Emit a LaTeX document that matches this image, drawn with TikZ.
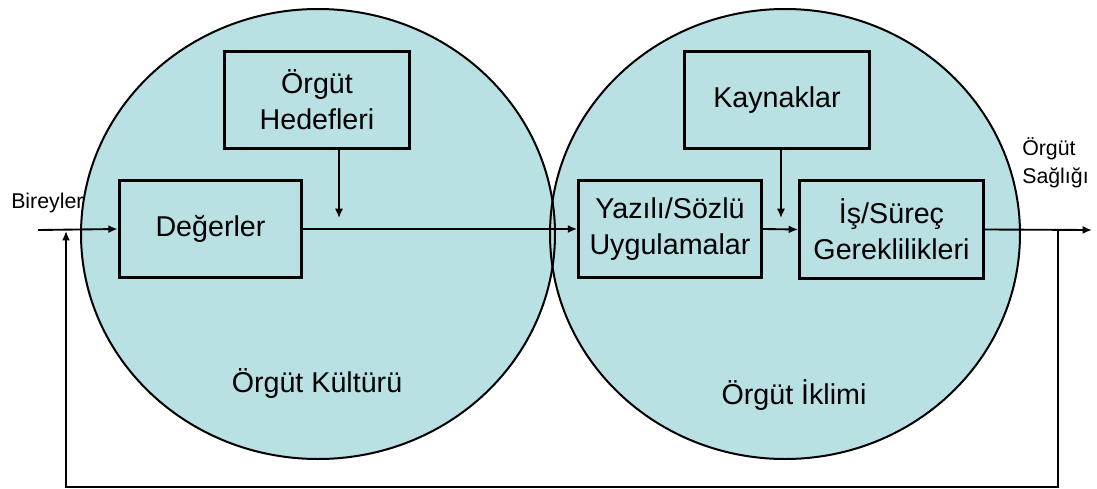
\documentclass[tikz,border=0pt]{standalone}
\usepackage{fontspec}
\setmainfont{Liberation Sans}
\usetikzlibrary{arrows.meta}
\definecolor{bubble}{RGB}{185,224,227}
\tikzset{
  box/.style={draw,line width=2.2pt,fill=bubble,align=center,inner sep=0pt,
    font=\fontsize{21.5}{27}\selectfont},
  flow/.style={line width=1.4pt,-{Latex[length=7pt,width=6pt]}},
  loop/.style={line width=2pt},
  side/.style={align=left,font=\fontsize{16}{21}\selectfont}
}
\begin{document}
\begin{tikzpicture}[x=0.75pt,y=-0.75pt]
        \useasboundingbox (0,0) rectangle (1097,489);
        % the two fields
        \path [fill=bubble] (318,234) ellipse [x radius=237,y radius=225];
        \path [fill=bubble] (785,234) ellipse [x radius=235,y radius=225];
        \draw [line width=1.5pt] (318,234) ellipse [x radius=237,y radius=225];
        \draw [line width=1.5pt] (785,234) ellipse [x radius=235,y radius=225];
        \node (kultur) at (317,383) {\fontsize{21.5}{26}\selectfont Örgüt Kültürü};
        \node (iklim) at (794,395) {\fontsize{21.5}{26}\selectfont Örgüt İklimi};
        % boxes
        \node [box,minimum width=139pt,minimum height=73pt] (hedef) at (317,100) {Örgüt\\Hedefleri};
        \node [box,minimum width=137pt,minimum height=73pt] (degerler) at (210.5,229) {Değerler};
        \node [box,minimum width=139pt,minimum height=73pt] (kaynak) at (777,100) {Kaynaklar};
        \node [box,minimum width=137pt,minimum height=73pt] (yazili) at (670,229) {Yazılı/Sözlü\\Uygulamalar};
        \node [box,minimum width=138pt,minimum height=73pt] (surec) at (891.5,229.5) {İş/Süreç\\Gereklilikleri};
        % outside labels
        \node [side,anchor=west,inner sep=0pt] (birey) at (11,203) {Bireyler};
        \node [side,anchor=west,inner sep=0pt] (saglik) at (1022,163) {Örgüt\\Sağlığı};
        \coordinate (giris) at (38,230);
        \coordinate (cikis) at (1092,230);
        \coordinate (sagdon) at (1058,230);
        \coordinate (sagalt) at (1058,487);
        \coordinate (solalt) at (66,487);
        \coordinate (soldon) at (66,231);
        \coordinate (hedefuc) at (339,218);
        \coordinate (kaynakuc) at (781,218);
        % connectors
        \draw [flow] (giris) -- (degerler.west);
        \draw [flow] (degerler.east) -- (yazili.west);
        \draw [flow] (yazili.east) -- (surec.west);
        \draw [flow] (surec.east) -- (cikis);
        \draw [flow,line width=1.2pt] (hedef.south -| hedefuc) -- (hedefuc);
        \draw [flow,line width=1.2pt] (kaynak.south -| kaynakuc) -- (kaynakuc);
        \draw [loop] (sagdon) -- (sagalt) -- (solalt) -- ([yshift=-8pt]soldon);
        \draw [flow] (solalt) -- (soldon);
      \end{tikzpicture}
\end{document}
